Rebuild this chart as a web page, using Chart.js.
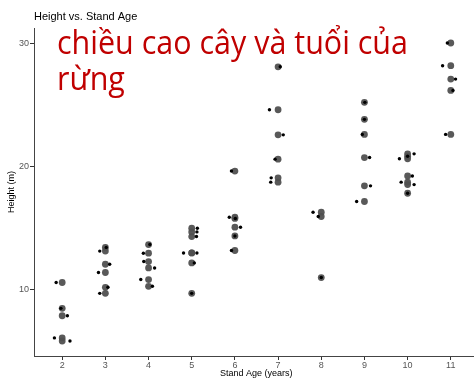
<!DOCTYPE html>
<html>
<head>
<meta charset="utf-8">
<title>Height vs. Stand Age</title>
<script src="https://cdn.jsdelivr.net/npm/chart.js@4/dist/chart.umd.min.js"></script>
<style>
  html, body { margin: 0; padding: 0; background: #ffffff; overflow: hidden; }
  #wrap { width: 474px; height: 379px; overflow: hidden; position: relative; }
  canvas { display: block; }
</style>
</head>
<body>
<div id="wrap"><canvas id="chart" width="482" height="379"></canvas></div>
<script>
// Stand age (years) of each measured tree, its height (m), and the
// horizontal jitter applied to the small overlaid dots.
const standAge = [
  2, 2, 2, 2, 2,
  3, 3, 3, 3, 3, 3,
  4, 4, 4, 4, 4, 4,
  5, 5, 5, 5, 5, 5, 5,
  6, 6, 6, 6, 6, 6,
  7, 7, 7, 7, 7, 7,
  8, 8, 8,
  9, 9, 9, 9, 9, 9,
  10, 10, 10, 10, 10, 10, 10,
  11, 11, 11, 11, 11
];
const heightM = [
  10.55, 8.45, 7.85, 6.05, 5.8,
  13.4, 13.1, 12.03, 11.36, 10.16, 9.67,
  13.63, 12.93, 12.25, 11.73, 10.79, 10.24,
  14.96, 14.66, 14.28, 12.95, 12.95, 12.14, 9.67,
  19.6, 15.85, 15.75, 15.04, 14.33, 13.15,
  28.07, 24.58, 22.54, 20.57, 19.05, 18.7,
  16.26, 15.91, 10.95,
  25.18, 23.8, 22.58, 20.7, 18.4, 17.13,
  21.0, 20.8, 20.6, 19.2, 18.7, 18.5, 17.8,
  30.0, 28.16, 27.07, 26.15, 22.58
];
const jitterOffset = [
  -0.14, -0.03, 0.12, -0.18, 0.18,
  0.02, -0.13, 0.10, -0.16, 0.06, -0.13,
  0.03, -0.12, -0.11, 0.14, -0.18, 0.09,
  0.13, 0.12, 0.11, -0.19, 0.12, 0.06, 0.0,
  -0.08, -0.13, 0.01, 0.13, 0.0, -0.08,
  0.05, -0.20, 0.12, -0.07, -0.16, -0.17,
  -0.19, -0.07, 0.0,
  0.01, 0.0, -0.05, 0.12, 0.14, -0.18,
  0.15, 0.0, -0.19, 0.11, -0.15, 0.15, 0.0,
  -0.08, -0.19, 0.11, 0.05, -0.12
];
const xTickValues = [2, 3, 4, 5, 6, 7, 8, 9, 10, 11];
const yTickValues = [10, 20, 30];
const captionLines = ['chiều cao cây và tuổi của', 'rừng'];

const treePoints = standAge.map((a, i) => ({ x: a, y: heightM[i] }));
const jitterPoints = standAge.map((a, i) => ({ x: a + jitterOffset[i], y: heightM[i] }));

const FONT = '"Liberation Sans", Arial, sans-serif';

// Large red caption written over the upper-left of the plot.
const captionPlugin = {
  id: 'caption',
  afterDraw(chart) {
    const ctx = chart.ctx;
    ctx.save();
    ctx.fillStyle = '#c00000';
    ctx.font = '32px "Open Sans", "Noto Sans", sans-serif';
    ctx.textBaseline = 'alphabetic';
    ctx.textAlign = 'left';
    const w = ctx.measureText(captionLines[0]).width;
    const sx = 351 / w;
    ctx.translate(57, 0);
    ctx.scale(sx, 1);
    ctx.fillText(captionLines[0], 0, 54);
    ctx.fillText(captionLines[1], 0, 89.5);
    ctx.restore();
  }
};

const axisGrid = {
  display: true,
  drawOnChartArea: false,
  drawTicks: true,
  tickLength: 4,
  color: '#333333',
  lineWidth: 1
};

new Chart(document.getElementById('chart'), {
  type: 'scatter',
  data: {
    datasets: [
      {
        label: 'Height',
        data: treePoints,
        pointRadius: 3.4,
        pointHoverRadius: 3.4,
        pointBackgroundColor: 'rgba(80,80,80,0.95)',
        pointBorderWidth: 0,
        order: 2
      },
      {
        label: 'Height (jittered)',
        data: jitterPoints,
        pointRadius: 1.7,
        pointHoverRadius: 1.7,
        pointBackgroundColor: '#000000',
        pointBorderWidth: 0,
        order: 1
      }
    ]
  },
  options: {
    responsive: false,
    animation: false,
    events: [],
    layout: { padding: 0 },
    plugins: {
      legend: { display: false },
      tooltip: { enabled: false },
      title: {
        display: true,
        text: 'Height vs. Stand Age',
        align: 'start',
        fullSize: false,
        color: '#000000',
        font: { family: FONT, size: 11, weight: 'normal', lineHeight: 1.2 },
        padding: { top: 10.7, bottom: 4.1 }
      }
    },
    scales: {
      x: {
        type: 'linear',
        min: 1.347,
        max: 11.644,
        grid: axisGrid,
        border: { display: true, color: '#444444', width: 1 },
        afterBuildTicks(scale) { scale.ticks = xTickValues.map(v => ({ value: v })); },
        afterFit(scale) { scale.height = 23; },
        ticks: {
          color: '#555555',
          padding: 0,
          maxRotation: 0,
          autoSkip: false,
          font: { family: FONT, size: 9 }
        },
        title: {
          display: true,
          text: 'Stand Age (years)',
          color: '#000000',
          font: { family: FONT, size: 9, lineHeight: 1.2 },
          padding: { top: 0, bottom: 0 }
        }
      },
      y: {
        type: 'linear',
        min: 4.58,
        max: 31.22,
        grid: axisGrid,
        border: { display: true, color: '#444444', width: 1 },
        afterBuildTicks(scale) { scale.ticks = yTickValues.map(v => ({ value: v })); },
        afterFit(scale) { scale.width = 34; },
        ticks: {
          color: '#555555',
          padding: 1,
          font: { family: FONT, size: 9 }
        },
        title: {
          display: true,
          text: 'Height (m)',
          color: '#000000',
          font: { family: FONT, size: 9, lineHeight: 1.2 },
          padding: { top: 6.6, bottom: 0 }
        }
      }
    }
  },
  plugins: [captionPlugin]
});
</script>
</body>
</html>
